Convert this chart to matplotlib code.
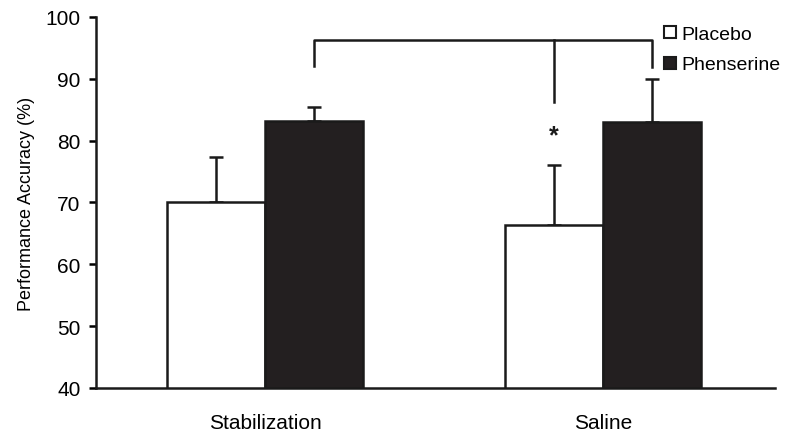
import matplotlib
matplotlib.use("Agg")
import matplotlib.pyplot as plt
from matplotlib.lines import Line2D
import numpy as np

categories = ["Stabilization", "Saline"]
placebo = [70.1, 66.4]
placebo_err = [7.2, 9.7]
phenserine = [83.1, 83.0]
phenserine_err = [2.3, 6.9]
series_names = ["Placebo", "Phenserine"]
yticks = [40, 50, 60, 70, 80, 90, 100]
bracket_top = 96.3
bracket_arm_ends = [92.1, 86.2, 91.9]

plt.rcParams['font.family'] = ['Liberation Sans', 'DejaVu Sans']

fig = plt.figure(figsize=(7.87, 4.39), dpi=100)
ax = fig.add_axes([0.122, 0.114, 0.863, 0.845])

x = np.arange(len(categories))
w = 0.29
off = 0.145
ax.bar(x - off, placebo, width=w, bottom=0, color='white', edgecolor='#1a1a1a', linewidth=1.8, zorder=2)
ax.bar(x + off, phenserine, width=w, bottom=0, color='#231f20', edgecolor='#1a1a1a', linewidth=1.8, zorder=2)
ax.errorbar(x - off, placebo, yerr=[np.zeros(2), placebo_err], fmt='none', ecolor='#1a1a1a',
            elinewidth=1.8, capsize=5, capthick=1.8, zorder=1)
ax.errorbar(x + off, phenserine, yerr=[np.zeros(2), phenserine_err], fmt='none', ecolor='#1a1a1a',
            elinewidth=1.8, capsize=5, capthick=1.8, zorder=1)

# significance bracket
xl, xm, xr = x[0] + off, x[1] - off, x[1] + off
ax.plot([xl, xl, xr, xr], [bracket_arm_ends[0], bracket_top, bracket_top, bracket_arm_ends[2]],
        color='#1a1a1a', lw=1.8, clip_on=False)
ax.plot([xm, xm], [bracket_top, bracket_arm_ends[1]], color='#1a1a1a', lw=1.8)
ax.text(xm, 80.8, '*', ha='center', va='center', fontsize=18, fontweight='bold', color='#1a1a1a')

ax.set_ylim(40, 100)
ax.set_xlim(-0.5, 1.51)
ax.set_yticks(yticks)
ax.set_yticklabels([str(t) for t in yticks], fontsize=15)
ax.set_xticks(x)
ax.set_xticklabels(categories, fontsize=15)
ax.tick_params(axis='x', length=0, pad=18)
ax.tick_params(axis='y', length=5, width=1.8, pad=6)
ax.set_ylabel('Performance Accuracy (%)', fontsize=13, labelpad=8)
for s in ['top', 'right']:
    ax.spines[s].set_visible(False)
for s in ['left', 'bottom']:
    ax.spines[s].set_linewidth(1.8)
    ax.spines[s].set_color('#1a1a1a')

handles = [Line2D([], [], marker='s', ls='none', markersize=8, markerfacecolor='white',
                  markeredgecolor='#1a1a1a', markeredgewidth=1.5),
           Line2D([], [], marker='s', ls='none', markersize=8, markerfacecolor='#231f20',
                  markeredgecolor='#1a1a1a', markeredgewidth=1.5)]
fig.legend(handles, series_names, loc='upper left', bbox_to_anchor=(0.83, 0.962),
           frameon=False, fontsize=14, handlelength=0.7, handletextpad=0.25,
           labelspacing=0.66, borderpad=0)

fig.savefig('out.png', dpi=100)
